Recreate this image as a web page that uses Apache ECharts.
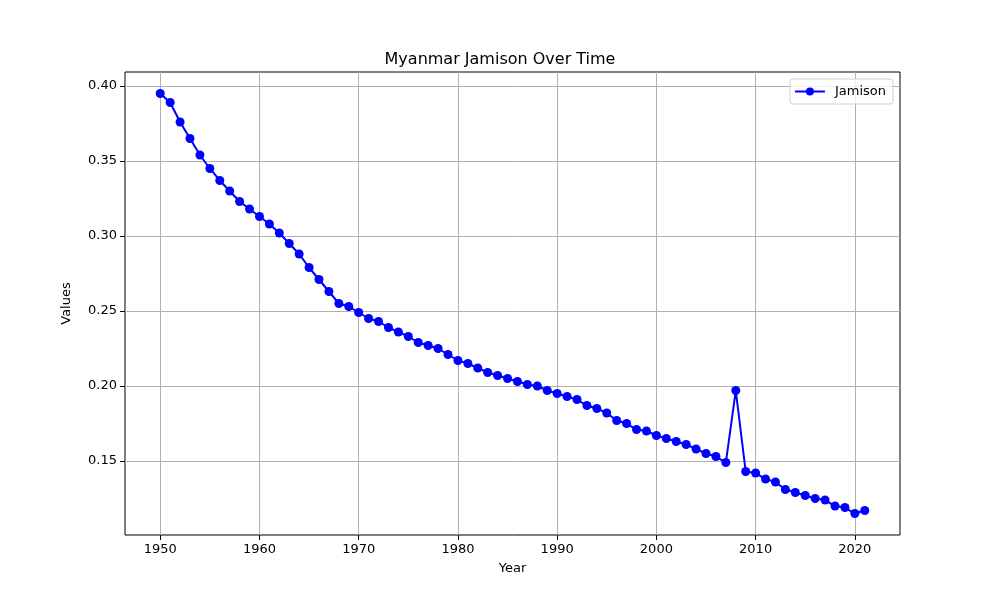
<!DOCTYPE html>
<html>
<head>
<meta charset="utf-8">
<script src="https://cdn.jsdelivr.net/npm/echarts@6/dist/echarts.min.js"></script>
<style>html,body{margin:0;padding:0;background:#fff}#c{width:1000px;height:600px}</style>
</head>
<body>
<div id="c"></div>
<script>
const years = [];
for (let y = 1950; y <= 2021; y++) years.push(y);
const values = [
  0.395, 0.389, 0.376, 0.365, 0.354, 0.345, 0.337, 0.330, 0.323, 0.318,
  0.313, 0.308, 0.302, 0.295, 0.288, 0.279, 0.271, 0.263, 0.255, 0.253,
  0.249, 0.245, 0.243, 0.239, 0.236, 0.233, 0.229, 0.227, 0.225, 0.221,
  0.217, 0.215, 0.212, 0.209, 0.207, 0.205, 0.203, 0.201, 0.200, 0.197,
  0.195, 0.193, 0.191, 0.187, 0.185, 0.182, 0.177, 0.175, 0.171, 0.170,
  0.167, 0.165, 0.163, 0.161, 0.158, 0.155, 0.153, 0.149, 0.197, 0.143,
  0.142, 0.138, 0.136, 0.131, 0.129, 0.127, 0.125, 0.124, 0.120, 0.119,
  0.115, 0.117
];
const xTicks = [1950, 1960, 1970, 1980, 1990, 2000, 2010, 2020];
const yTicks = [0.15, 0.20, 0.25, 0.30, 0.35, 0.40];

const font = 'DejaVu Sans';
const chart = echarts.init(document.getElementById('c'));
chart.setOption({
  animation: false,
  backgroundColor: '#fff',
  textStyle: { fontFamily: font },
  title: {
    text: 'Myanmar Jamison Over Time',
    left: 'center', top: 47,
    textStyle: { fontFamily: font, fontSize: 16, fontWeight: 'normal', color: '#000' }
  },
  legend: {
    right: 107, top: 79,
    itemWidth: 30, itemHeight: 10, itemGap: 10,
    padding: [6, 7, 6, 4],
    borderColor: '#d0d0d0', borderWidth: 1, borderRadius: 3,
    backgroundColor: 'rgba(255,255,255,0.8)',
    textStyle: { fontFamily: font, fontSize: 13, color: '#000', padding: [0, 0, 0, 5] },
    data: ['Jamison']
  },
  grid: {
    left: 125, right: 100, top: 72, bottom: 65,
    show: true, borderColor: '#000', borderWidth: 1, backgroundColor: 'transparent'
  },
  xAxis: {
    type: 'value',
    min: 1946.45, max: 2024.55,
    name: 'Year', nameLocation: 'middle', nameGap: 27,
    nameTextStyle: { fontFamily: font, fontSize: 13, color: '#000' },
    axisLine: { show: false },
    axisTick: { show: true, length: 5, lineStyle: { color: '#000' }, customValues: xTicks },
    axisLabel: { fontFamily: font, fontSize: 13, color: '#000', margin: 8, customValues: xTicks, formatter: v => String(v) },
    splitLine: { show: true, lineStyle: { color: '#b0b0b0', width: 1 } }
  },
  yAxis: {
    type: 'value',
    min: 0.1007, max: 0.4093,
    name: 'Values', nameLocation: 'middle', nameGap: 52, nameRotate: 90,
    nameTextStyle: { fontFamily: font, fontSize: 13, color: '#000' },
    axisLine: { show: false },
    axisTick: { show: true, length: 5, lineStyle: { color: '#000' }, customValues: yTicks },
    axisLabel: { fontFamily: font, fontSize: 13, color: '#000', margin: 8, customValues: yTicks, formatter: v => v.toFixed(2) },
    splitLine: { show: true, lineStyle: { color: '#b0b0b0', width: 1 } }
  },
  series: [{
    name: 'Jamison',
    type: 'line',
    data: years.map((y, i) => [y, values[i]]),
    symbol: 'circle', symbolSize: 9,
    showAllSymbol: true,
    itemStyle: { color: '#0000ff' },
    lineStyle: { color: '#0000ff', width: 2 }
  }]
});
</script>
</body>
</html>
